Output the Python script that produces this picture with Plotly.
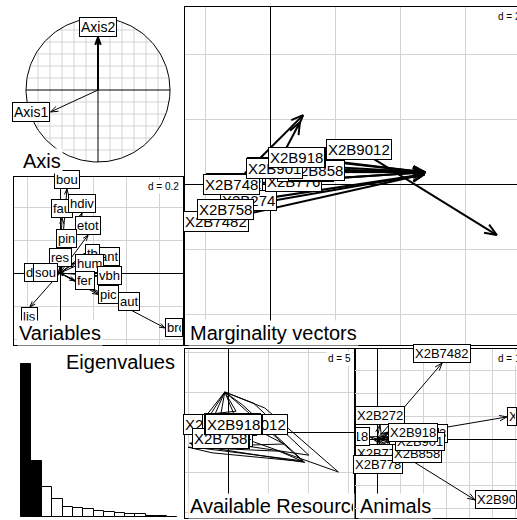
import math
import plotly.graph_objects as go

W, H = 517, 520
FONT = "Liberation Sans, Arial, sans-serif"

# ---- data -------------------------------------------------------------
# correlation circle of the two kept axes
axis_names = ["Axis1", "Axis2"]
axis_x = [-0.66, 0.0]
axis_y = [-0.305, 0.73]

# variable loadings (d = 0.2)
var_names = ["bou", "fau", "hdiv", "etot", "pin", "res", "ant", "tb", "hum",
             "fer", "vbh", "aut", "pic", "dis", "sou", "lis", "bro"]
var_x = [0.042, 0.012, 0.133, 0.170, 0.042, 0.000, 0.230, 0.152, 0.091,
         0.091, 0.224, 0.352, 0.230, -0.090, -0.012, -0.182, 0.636]
var_y = [0.509, 0.333, 0.364, 0.230, 0.152, 0.036, 0.103, 0.118, 0.060,
         -0.048, -0.018, -0.170, -0.130, 0.006, 0.003, -0.206, -0.333]

# eigenvalues, first two kept
eigenvalues = [1.53, 0.56, 0.30, 0.177, 0.103, 0.093, 0.077, 0.063,
               0.050, 0.040, 0.033, 0.027, 0.012, 0.008, 0.005]
n_kept = 2

animals = ["X2B272", "X2B274", "X2B748", "X2B7482", "X2B753", "X2B758", "X2B776",
           "X2B778", "X2B818", "X2B858", "X2B901", "X2B9012", "X2B903", "X2B918"]

# marginality vectors (d = 2): from available to used
marg_x0 = [-1.10, -0.65, -1.17, -1.66, 0.92, -1.38, 0.71, 1.08, 0.18, 1.42, 0.15, 2.74, 0.86, 0.80]
marg_y0 = [0.00, -0.52, -0.03, -1.14, 0.58, -0.77, 0.09, 0.37, 0.50, 0.43, 0.49, 1.05, 0.83, 0.80]
marg_x1 = [1.02, 4.75, 4.77, 4.75, 4.77, 4.75, 4.77, 4.77, 0.92, 4.77, 4.77, 6.98, 4.77, 4.77]
marg_y1 = [2.12, 0.30, 0.36, 0.30, 0.36, 0.30, 0.36, 0.36, 1.90, 0.36, 0.36, -1.57, 0.36, 0.36]

# available resources (d = 5): label position per animal + polygons
avail_x = [0.0, -0.5, -0.8, -1.5, 0.3, -1.0, 0.5, 0.6, 0.5, 0.7, 2.5, 3.4, 0.8, 0.625]
avail_y = [0.8, -0.6, -0.8, 0.9, 0.9, -0.75, 1.1, 0.9, 1.0, 1.0, 1.0, 1.0, 1.0, 1.0]
poly_animal = ["X2B272", "X2B748", "X2B758", "X2B858", "X2B901", "X2B9012", "X2B918"]
poly_x = [[-0.4, 4.6, 13.8, 2.0],
          [-0.4, 3.2, 10.1, -1.5],
          [-0.4, 1.8, 9.6, -4.6],
          [-0.4, 0.9, 9.3, -3.5],
          [-2.6, -0.4, 1.0],
          [-5.0, 6.4, 9.4, -2.0],
          [-4.8, 4.5, 7.0, -3.0]]
poly_y = [[5.0, 3.0, -5.0, -0.8],
          [5.0, 3.6, -2.9, -1.2],
          [5.0, 3.4, -3.8, -1.6],
          [5.0, 3.9, -3.6, -2.0],
          [2.2, 5.0, 2.6],
          [-1.9, -2.4, -3.7, -2.6],
          [-1.4, -0.2, -1.5, -1.8]]

# animal scores (d = 1)
anim_x = [0.13, 0.50, 0.55, 2.83, 0.91, 0.50, 0.13, 0.04, -0.30, 0.65, 0.78, 5.65, 4.26, 0.48]
anim_y = [0.61, 0.25, -0.15, 3.30, 0.22, 0.05, -0.22, -0.70, 0.09, -0.61, -0.10, 0.96, -2.65, 0.30]

# ---- panel geometry (pixels): x span, y span, origin, pixels per unit ----
GEOM = {
    1: ((0, 183), (0, 175), (98, 90), 72.0),
    2: ((14, 183), (177, 345), (60, 273), 165.0),
    3: ((185, 517), (7, 345), (270, 184), 32.5),
    5: ((185, 355), (349, 518), (228, 432), 8.0),
    6: ((355, 517), (349, 518), (377, 439), 23.0),
}

CW = {c: 0.556 for c in "0123456789abdeghnopqu"}
CW.update({"X": 0.667, "B": 0.667, "A": 0.667, "c": 0.5, "k": 0.5, "s": 0.5, "v": 0.5,
           "x": 0.5, "y": 0.5, "z": 0.5, "f": 0.278, "t": 0.278, "r": 0.333,
           "i": 0.222, "j": 0.222, "l": 0.222, "m": 0.833, "w": 0.722, " ": 0.278})


def text_w(s, size):
    return sum(CW.get(c, 0.556) for c in s) * size


def refs(p):
    return ("x", "y") if p == 1 else (f"x{p}", f"y{p}")


def axis_pair(p, dtick=None, frame=None):
    (x0, x1), (y0, y1), (ox, oy), ppu = GEOM[p]
    base = dict(showticklabels=False, ticks="", fixedrange=True,
                showgrid=dtick is not None, gridcolor="#d3d3d3", gridwidth=1,
                zeroline=dtick is not None, zerolinecolor="black", zerolinewidth=1)
    if dtick:
        base.update(dtick=dtick, tick0=0)
    xr, yr = refs(p)
    xa = dict(base, domain=[x0 / W, x1 / W], range=[(x0 - ox) / ppu, (x1 - ox) / ppu], anchor=yr)
    ya = dict(base, domain=[1 - y1 / H, 1 - y0 / H], range=[(oy - y1) / ppu, (oy - y0) / ppu], anchor=xr)
    if frame:
        xa.update(showline=True, linecolor="black", linewidth=1, mirror=True)
        ya.update(showline=True, linecolor="black", linewidth=1, mirror=(frame == "box"))
    if frame is None and dtick is None:
        xa["visible"] = False
        ya["visible"] = False
    return xa, ya


def arrow_xy(x0s, y0s, x1s, y1s, ppu, head, angle=20):
    xs, ys = [], []
    for a, b, c, d in zip(x0s, y0s, x1s, y1s):
        ang = math.atan2(d - b, c - a)
        xs += [a, c, None]
        ys += [b, d, None]
        t1 = ang + math.pi + math.radians(angle)
        t2 = ang + math.pi - math.radians(angle)
        xs += [c + head * math.cos(t1) / ppu, c, c + head * math.cos(t2) / ppu, None]
        ys += [d + head * math.sin(t1) / ppu, d, d + head * math.sin(t2) / ppu, None]
    return xs, ys


def label(p, text, x, y, size, xanchor="center", yanchor="middle", pad=1):
    (x0, x1), _, (ox, oy), ppu = GEOM[p]
    xr, yr = refs(p)
    ann = dict(x=x, y=y, xref=xr, yref=yr, text=text, showarrow=False,
               xanchor=xanchor, yanchor=yanchor,
               font=dict(family=FONT, size=size, color="black"),
               bgcolor="white", bordercolor="black", borderwidth=1, borderpad=pad)
    tw = text_w(text, size) + 4
    tip = ox + x * ppu
    if xanchor == "left" and tip + tw + 2 * pad + 2 > x1:
        ann.update(width=max(x1 - tip - 2 * pad - 2, 1), align="left")
    if xanchor == "right" and tip - tw - 2 * pad - 2 < x0:
        ann.update(width=max(tip - x0 - 2 * pad - 2, 1), align="right")
    return ann


def circ_label(p, text, x, y, size):
    # label box put just outside the arrow tip (ade4 style)
    if x > y and x > -y:
        return label(p, text, x, y, size, "left", "middle")
    if x > y:
        return label(p, text, x, y, size, "center", "top")
    if x <= -y:
        return label(p, text, x, y, size, "right", "middle")
    return label(p, text, x, y, size, "center", "bottom")


def paper_text(text, px, py, size, xanchor="left", yanchor="top", bg="white", width=None):
    ann = dict(x=px / W, y=1 - py / H, xref="paper", yref="paper", text=text,
               showarrow=False, xanchor=xanchor, yanchor=yanchor,
               font=dict(family=FONT, size=size, color="black"),
               bgcolor=bg, borderpad=1)
    if width:
        ann.update(width=width, align="left")
    return ann


fig = go.Figure()
annotations = []
line = dict(color="black", width=1)

# ---- panel 1: axis correlation circle ----
gx, gy = [], []
for k in range(-5, 6):
    if k == 0:
        continue
    v = k / 6
    h = math.sqrt(1 - v * v)
    gx += [v, v, None, -h, h, None]
    gy += [-h, h, None, v, v, None]
fig.add_trace(go.Scatter(x=gx, y=gy, mode="lines", line=dict(color="#d3d3d3", width=1),
                         xaxis="x", yaxis="y", hoverinfo="skip"))
th = [2 * math.pi * i / 200 for i in range(201)]
fig.add_trace(go.Scatter(x=[math.cos(t) for t in th] + [None, -1, 1, None, 0, 0],
                         y=[math.sin(t) for t in th] + [None, 0, 0, None, -1, 1],
                         mode="lines", line=line, xaxis="x", yaxis="y", hoverinfo="skip"))
for i in range(len(axis_names)):
    ax_, ay_ = arrow_xy([0], [0], [axis_x[i]], [axis_y[i]], GEOM[1][3], 8)
    fig.add_trace(go.Scatter(x=ax_, y=ay_, mode="lines",
                             line=dict(color="black", width=2 if i == 1 else 1),
                             xaxis="x", yaxis="y", hoverinfo="skip"))
for n, x, y in zip(axis_names, axis_x, axis_y):
    annotations.append(circ_label(1, n, x, y, 14))

# ---- panel 2: variables ----
vx, vy = arrow_xy([0] * len(var_x), [0] * len(var_y), var_x, var_y, GEOM[2][3], 6)
fig.add_trace(go.Scatter(x=vx, y=vy, mode="lines", line=line, xaxis="x2", yaxis="y2",
                         hoverinfo="skip"))
for n, x, y in zip(var_names, var_x, var_y):
    annotations.append(circ_label(2, n, x, y, 13))

# ---- panel 3: marginality vectors ----
mx, my = arrow_xy(marg_x0, marg_y0, marg_x1, marg_y1, GEOM[3][3], 13, 22)
fig.add_trace(go.Scatter(x=mx, y=my, mode="lines", line=dict(color="black", width=2),
                         xaxis="x3", yaxis="y3", hoverinfo="skip"))
for n, x, y in zip(animals, marg_x0, marg_y0):
    annotations.append(label(3, n, x, y, 15))

# ---- panel 4: eigenvalues ----
fig.add_trace(go.Bar(x=list(range(len(eigenvalues))), y=eigenvalues, width=1,
                     marker=dict(color=["black" if i < n_kept else "white"
                                        for i in range(len(eigenvalues))],
                                 line=dict(color="black", width=1)),
                     xaxis="x4", yaxis="y4", hoverinfo="skip"))

# ---- panel 5: available resources ----
px_, py_ = [], []
for xs, ys in zip(poly_x, poly_y):
    px_ += xs + [xs[0], None]
    py_ += ys + [ys[0], None]
fig.add_trace(go.Scatter(x=px_, y=py_, mode="lines", line=line, xaxis="x5", yaxis="y5",
                         hoverinfo="skip"))
for n, x, y in zip(animals, avail_x, avail_y):
    annotations.append(label(5, n, x, y, 15))

# ---- panel 6: animals ----
nx, ny = arrow_xy([0] * len(anim_x), [0] * len(anim_y), anim_x, anim_y, GEOM[6][3], 8)
fig.add_trace(go.Scatter(x=nx, y=ny, mode="lines", line=line, xaxis="x6", yaxis="y6",
                         hoverinfo="skip"))
for n, x, y in zip(animals, anim_x, anim_y):
    annotations.append(circ_label(6, n, x, y, 13))

# ---- scale boxes and panel titles ----
annotations += [
    paper_text("d = 0.2", 181, 179, 10, xanchor="right"),
    paper_text("d = 2", 496, 9, 10),
    paper_text("d = 5", 353, 351, 10, xanchor="right"),
    paper_text("d = 1", 496, 351, 10),
    paper_text("Axis", 21, 148, 20),
    paper_text("Variables", 17, 320, 20),
    paper_text("Marginality vectors", 188, 320, 20),
    paper_text("Available Resources", 188, 493, 20, width=163),
    paper_text("Animals", 358, 493, 20),
    paper_text("Eigenvalues", 177, 349, 20, xanchor="right", bg=None),
]

layout = dict(width=W, height=H, margin=dict(l=0, r=0, t=0, b=0),
              paper_bgcolor="white", plot_bgcolor="white", showlegend=False,
              bargap=0, annotations=annotations)
for p, dt, fr in [(1, None, None), (2, 0.2, "box"), (3, 2, "open"),
                  (5, 5, "box"), (6, 1, "open")]:
    xa, ya = axis_pair(p, dt, fr)
    layout["xaxis" if p == 1 else f"xaxis{p}"] = xa
    layout["yaxis" if p == 1 else f"yaxis{p}"] = ya
layout["xaxis4"] = dict(domain=[0, 183 / W], range=[-2.52, 15.08], visible=False,
                        anchor="y4", fixedrange=True)
layout["yaxis4"] = dict(domain=[1 - 517 / H, 1 - 345 / H],
                        range=[0, max(eigenvalues) * 172 / 153], visible=False,
                        anchor="x4", fixedrange=True)
fig.update_layout(**layout)

# page body margin off, so the figure sits at the window's top-left corner
fig.write_html("out.html", config={"displayModeBar": False},
               post_script="document.body.style.margin = '0';")
